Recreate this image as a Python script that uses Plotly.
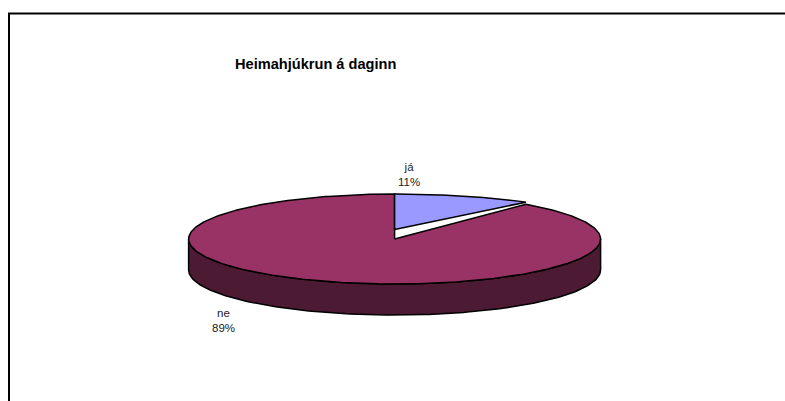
import numpy as np
import plotly.graph_objects as go

title = "Heimahjúkrun á daginn"
categories = ["já", "ne"]
values = [11, 89]
colors = ["#9999FF", "#993366"]
side_color = "#4C1A33"

W, H = 785, 401
cx, cy = 394.6, 239.0
rx, ry = 206.0, 45.0
depth = 31.0
ja_lift = 9.5

share = np.array(values, dtype=float) / sum(values)
split = share[0] * 2 * np.pi


def arc(a0, a1, cy_, ry_, n=180):
    t = np.linspace(a0, a1, n)
    return cx + rx * np.sin(t), cy_ - ry_ * np.cos(t)


fig = go.Figure()
line = dict(color="#000000", width=1.5)


def poly(x, y, color, name):
    fig.add_trace(go.Scatter(x=list(x), y=list(y), mode="lines", fill="toself",
                             fillcolor=color, line=line, name=name, hoverinfo="name"))


# side wall
tx, ty = arc(np.pi / 2, 3 * np.pi / 2, cy, ry)
bx, by = arc(3 * np.pi / 2, np.pi / 2, cy + depth, ry)
poly(np.r_[tx, bx, tx[0]], np.r_[ty, by, ty[0]], side_color, categories[1])

# top face: ne
ax_, ay_ = arc(split, 2 * np.pi, cy, ry, 360)
poly(np.r_[cx, ax_, cx], np.r_[cy, ay_, cy], colors[1], categories[1])

# top face: já, pulled out of the pie
ax_, ay_ = arc(0, split, cy - ja_lift, ry - ja_lift, 60)
poly(np.r_[cx, ax_, cx], np.r_[cy - ja_lift, ay_, cy - ja_lift], colors[0], categories[0])

font = dict(family="Liberation Sans, Arial, sans-serif", size=11.5, color="#222222")
annots = [
    dict(x=315, y=64, text=f"<b>{title}</b>",
         font=dict(family="Liberation Sans, Arial, sans-serif", size=14.6, color="#000000")),
    dict(x=408.5, y=174.5, text=f"{categories[0]}<br>{values[0]}%", font=font),
    dict(x=223, y=320.5, text=f"{categories[1]}<br>{values[1]}%", font=font),
]
for a in annots:
    a.update(xref="x", yref="y", showarrow=False, xanchor="center", yanchor="middle")

frame = dict(type="path", path=f"M 9 {H} L 9 13.5 L {W} 13.5", line=dict(color="#000000", width=2), xref="x", yref="y")

fig.update_layout(
    width=W, height=H, margin=dict(l=0, r=0, t=0, b=0),
    paper_bgcolor="#FFFFFF", plot_bgcolor="#FFFFFF", showlegend=False,
    annotations=annots, shapes=[frame],
    xaxis=dict(range=[0, W], visible=False, fixedrange=True),
    yaxis=dict(range=[H, 0], visible=False, fixedrange=True),
)
fig.write_html("out.html", config=dict(displayModeBar=False),
               post_script="document.body.style.margin='0';document.body.style.overflow='hidden';")
